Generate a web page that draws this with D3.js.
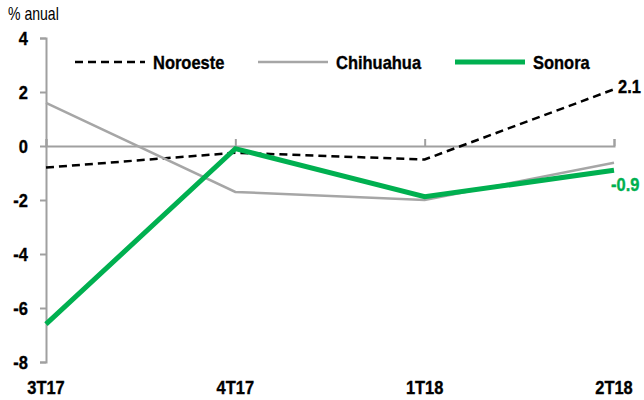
<!DOCTYPE html>
<html><head><meta charset="utf-8">
<script src="https://cdn.jsdelivr.net/npm/d3@7"></script>
<style>
body{margin:0;background:#fff;}
svg{display:block;}
text{font-family:"Liberation Sans",Arial,sans-serif;}
</style></head>
<body>
<svg id="c" width="644" height="400"></svg>
<script>
const categories = ["3T17","4T17","1T18","2T18"];
const noroeste = [-0.8, -0.25, -0.5, 2.1];
const chihuahua = [1.6, -1.7, -2.0, -0.62];
const sonora = [-6.6, -0.1, -1.88, -0.9];
const yTicks = [4, 2, 0, -2, -4, -6, -8];
const seriesNames = ["Noroeste","Chihuahua","Sonora"];

const svg = d3.select("#c");
const x = d3.scalePoint().domain(categories).range([46, 614]);
const y = d3.scaleLinear().domain([-8, 4]).range([362, 38]);
const axisColor = "#a0a0a0";
const fmt = d => String(d).replace("\u2212","-");

// y axis
const yAxis = svg.append("g").attr("transform","translate(46,0)")
  .call(d3.axisLeft(y).tickValues(yTicks).tickSize(6).tickFormat(d => fmt(d)));
yAxis.select(".domain").attr("stroke", axisColor).attr("stroke-width",2);
yAxis.selectAll(".tick line").attr("stroke", axisColor).attr("stroke-width",2);
yAxis.selectAll(".tick text").attr("font-size",18.5).attr("font-weight","bold").attr("fill","#000").attr("x",-18)
  .attr("dy","0.36em").attr("class","cond b")
  .style("font-family",'"Liberation Sans",Arial,sans-serif');

// x axis at zero
const xAxis = svg.append("g").attr("transform",`translate(0,${y(0)})`)
  .call(d3.axisTop(x).tickSize(7).tickFormat(""));
xAxis.select(".domain").attr("stroke", axisColor).attr("stroke-width",2);
xAxis.selectAll(".tick line").attr("stroke", axisColor).attr("stroke-width",2);

// x labels at bottom
svg.append("g").selectAll("text").data(categories).join("text")
  .attr("class","cond b")
  .attr("x", d => x(d)).attr("y", 394)
  .attr("text-anchor","middle").attr("font-size",18.5).attr("font-weight","bold").attr("fill","#000")
  .text(d => d);

svg.append("text").attr("class","cond").attr("data-k","0.76").attr("x",8).attr("y",20).attr("font-size",18.5).attr("fill","#000").text("% anual");

const line = d3.line().x((d,i)=>x(categories[i])).y(d=>y(d));
const styles = [
  {data:noroeste, color:"#000", w:2.5, dash:"8,5"},
  {data:chihuahua, color:"#a6a6a6", w:2.5, dash:null},
  {data:sonora, color:"#00b050", w:5, dash:null}
];
styles.forEach(s=>{
  svg.append("path").attr("d", line(s.data)).attr("fill","none")
    .attr("stroke", s.color).attr("stroke-width", s.w)
    .attr("stroke-dasharray", s.dash).attr("stroke-linejoin","miter");
});

// legend
const legendX = [75, 258, 455];
seriesNames.forEach((n,i)=>{
  const s = styles[i];
  svg.append("line").attr("x1",legendX[i]).attr("x2",legendX[i]+70).attr("y1",62).attr("y2",62)
    .attr("stroke", s.color).attr("stroke-width", s.w).attr("stroke-dasharray", s.dash);
  svg.append("text").attr("class","cond b").attr("x",legendX[i]+78).attr("y",69).attr("font-size",18.5).attr("font-weight","bold")
    .attr("fill","#000").text(n);
});

// end labels
svg.append("text").attr("class","cond b").attr("x",618).attr("y",y(noroeste[3])+4).attr("font-size",18.5).attr("font-weight","bold").attr("fill","#000")
  .text(fmt(d3.format(".1f")(noroeste[3])));
svg.append("text").attr("class","cond b").attr("x",611).attr("y",y(sonora[3])+21).attr("font-size",18.5).attr("font-weight","bold").attr("fill","#00b050")
  .text(fmt(d3.format(".1f")(sonora[3])));

// condense text to mimic a narrow typeface
svg.selectAll("text.cond").each(function(){
  const w = this.getComputedTextLength();
  const sel = d3.select(this);
  const k = +(sel.attr("data-k") || 0.89);
  sel.attr("textLength", w*k).attr("lengthAdjust","spacingAndGlyphs");
});
svg.selectAll("text.b").each(function(){
  const sel = d3.select(this);
  sel.attr("stroke", sel.attr("fill")).attr("stroke-width",0.35);
});
</script>
</body></html>
